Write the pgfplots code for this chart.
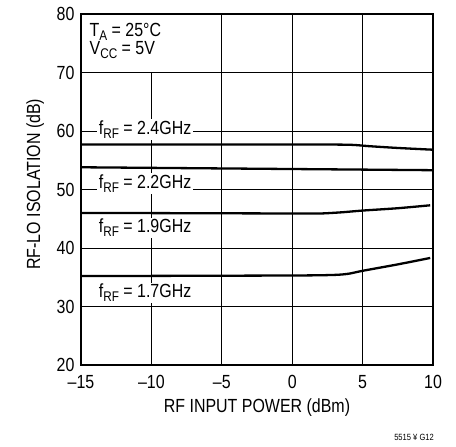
\documentclass[border=0pt]{standalone}
\usepackage{fontspec}
\setmainfont{Liberation Sans}[FakeStretch=0.84]
\usepackage{pgfplots}
\pgfplotsset{compat=1.18}
\usetikzlibrary{calc}
\newcommand\sub[1]{\raisebox{-0.4ex}{\fontsize{14}{14}\selectfont #1}}
\newcommand\lbl{\fontsize{19}{21}\selectfont}
\begin{document}
\begin{tikzpicture}
  \begin{axis}[
      name=ax,
      scale only axis,
      width=352pt, height=351pt,
      xmin=-15, xmax=10,
      ymin=20, ymax=80,
      xtick={-15,-10,-5,0,5,10},
      xticklabels={–15,–10,–5,0,5,10},
      ytick={20,30,40,50,60,70,80},
      grid=major,
      grid style={black, line width=0.7pt},
      axis line style={black, line width=1.3pt},
      major tick length=0pt,
      /pgf/number format/assume math mode=true,
      ticklabel style={font=\lbl},
      xticklabel style={yshift=-7pt},
      yticklabel style={xshift=-3pt},
      xlabel={RF INPUT POWER (dBm)},
      ylabel={RF-LO ISOLATION (dB)},
      every axis x label/.style={at={(axis description cs:0.5,-0.1225)}, anchor=center, font=\lbl},
      every axis y label/.style={at={(axis description cs:-0.13,0.515)}, rotate=90, anchor=center, font=\lbl},
      clip=false,
  ]
  % f_RF = 2.4GHz
  \addplot[black, line width=2.3pt, no markers, smooth, tension=0.4]
    coordinates {(-15,57.7) (0,57.7) (4,57.65) (5.5,57.4) (7.5,57.1) (10,56.8)};
  % f_RF = 2.2GHz
  \addplot[black, line width=2.3pt, no markers, smooth, tension=0.4]
    coordinates {(-15,53.8) (-5,53.6) (0,53.5) (5,53.4) (10,53.3)};
  % f_RF = 1.9GHz
  \addplot[black, line width=2.3pt, no markers, smooth, tension=0.4]
    coordinates {(-15,46.0) (0,45.9) (2,45.9) (3.5,46.1) (5,46.4) (7.5,46.8) (9.8,47.3)};
  % f_RF = 1.7GHz
  \addplot[black, line width=2.3pt, no markers, smooth, tension=0.4]
    coordinates {(-15,35.2) (0,35.3) (3,35.4) (4,35.6) (5,36.1) (7.5,37.2) (9.8,38.3)};

  % white patch behind the conditions
  \fill[white] (axis cs:-14.85,70.15) rectangle (axis cs:-9.2,79.8);
  \node[fill=white, inner sep=1.5pt, font=\lbl] at (axis cs:-10.45,60.2) {f\sub{RF} = 2.4GHz};
  \node[fill=white, inner sep=1.5pt, font=\lbl] at (axis cs:-10.45,51.0) {f\sub{RF} = 2.2GHz};
  \node[fill=white, inner sep=1.5pt, font=\lbl] at (axis cs:-10.45,43.4) {f\sub{RF} = 1.9GHz};
  \node[fill=white, inner sep=1.5pt, font=\lbl] at (axis cs:-10.45,32.3) {f\sub{RF} = 1.7GHz};
  \node[anchor=north west, align=left, font=\lbl, inner sep=0pt] at (axis cs:-14.4,78.4)
    {T\sub{A} = 25°C\\[-3pt] V\sub{CC} = 5V};
  \end{axis}
  \node[anchor=south east, font=\fontsize{9}{10}\selectfont, inner sep=0pt]
    at ($(ax.south east)+(1pt,-76pt)$) {5515 ¥ G12};
  \pgfresetboundingbox
  \path ($(ax.south west)+(-81pt,-81pt)$) rectangle ($(ax.north east)+(23pt,14pt)$);
\end{tikzpicture}
\end{document}
